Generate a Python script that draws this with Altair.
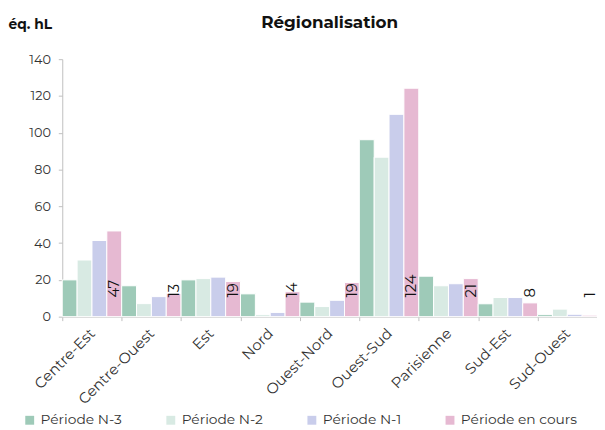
import altair as alt
import pandas as pd

regions = ["Centre-Est", "Centre-Ouest", "Est", "Nord", "Ouest-Nord",
           "Ouest-Sud", "Parisienne", "Sud-Est", "Sud-Ouest"]
periods = ["Période N-3", "Période N-2", "Période N-1", "Période en cours"]
colors = ["#9ecab8", "#d8eae3", "#c9cdeb", "#e6b9d2"]

n3 = [20.0, 16.8, 20.0, 12.4, 7.9, 96.2, 22.0, 7.0, 1.1]
n2 = [30.8, 7.1, 20.7, 1.1, 5.5, 86.7, 16.8, 10.4, 4.1]
n1 = [41.4, 10.9, 21.5, 2.3, 8.9, 110.0, 17.9, 10.4, 1.3]
cur = [46.6, 12.6, 19.1, 13.6, 18.6, 124.2, 20.7, 7.5, 0.8]
cur_labels = ["47", "13", "19", "14", "19", "124", "21", "8", "1"]
y_ticks = [0, 20, 40, 60, 80, 100, 120, 140]

rows = []
for i, r in enumerate(regions):
    for p, vals in zip(periods, [n3, n2, n1, cur]):
        rows.append({"region": r, "period": p, "value": vals[i]})
df = pd.DataFrame(rows)

lab = pd.DataFrame({"region": regions, "period": periods[3], "label": cur_labels})

FONT = "Montserrat, Inter, sans-serif"

x_axis = alt.Axis(labelAngle=-45, tickBand="extent", labelFontSize=15,
                  labelColor="#333333", domainColor="#bfbfbf",
                  tickColor="#bfbfbf", tickSize=4, labelPadding=10,
                  labelAlign="right", labelBaseline="middle",
                  labelFont=FONT, title=None)
x_scale = alt.Scale(paddingInner=0, paddingOuter=0)
xo = alt.XOffset("period:N", sort=periods,
                 scale=alt.Scale(paddingInner=0, paddingOuter=0))

y_axis = alt.Axis(values=y_ticks, grid=False, labelOverlap=False,
                  labelFontSize=13, labelColor="#333333",
                  domainColor="#bfbfbf", tickColor="#bfbfbf",
                  tickSize=4, labelPadding=8, labelFont=FONT,
                  title="éq. hL",
                  titleAngle=0, titleAlign="left", titleBaseline="alphabetic",
                  titleX=-55, titleY=-31, titleFontSize=14,
                  titleFontWeight="bold", titleColor="#111111",
                  titleFont=FONT)
y_scale = alt.Scale(domain=[0, 140], nice=False)

bars = alt.Chart(df).mark_bar(stroke="white", strokeWidth=1).encode(
    x=alt.X("region:N", sort=regions, scale=x_scale, axis=x_axis),
    xOffset=xo,
    y=alt.Y("value:Q", scale=y_scale, axis=y_axis),
    color=alt.Color("period:N", sort=periods,
                    scale=alt.Scale(domain=periods, range=colors),
                    legend=alt.Legend(title=None, orient="none", direction="horizontal",
                                      legendX=-40, legendY=359, padding=0,
                                      symbolType="square", symbolSize=81,
                                      symbolStrokeWidth=0, labelFontSize=14,
                                      labelColor="#333333", labelOffset=4,
                                      columnPadding=42, labelFont=FONT,
                                      labelLimit=300)),
)

texts = alt.Chart(lab).mark_text(angle=270, align="left", baseline="middle",
                                 fontSize=15, color="#111111", font=FONT).encode(
    x=alt.X("region:N", sort=regions, scale=x_scale, axis=x_axis),
    xOffset=alt.XOffset("period:N", sort=periods),
    y=alt.YDatum(10.4, scale=y_scale, axis=y_axis),
    text="label:N",
)

chart = alt.layer(bars, texts).properties(
    width=542, height=261,
    autosize=alt.AutoSizeParams(type="none"),
    padding={"left": 55, "top": 49, "right": 0, "bottom": 112},
    title=alt.TitleParams("Régionalisation", fontSize=17, fontWeight="bold",
                          anchor="middle", offset=0, dy=14, color="#111111",
                          font=FONT),
).configure_view(stroke=None)

chart.save("out.html", embed_options={"renderer": "svg", "actions": False})
